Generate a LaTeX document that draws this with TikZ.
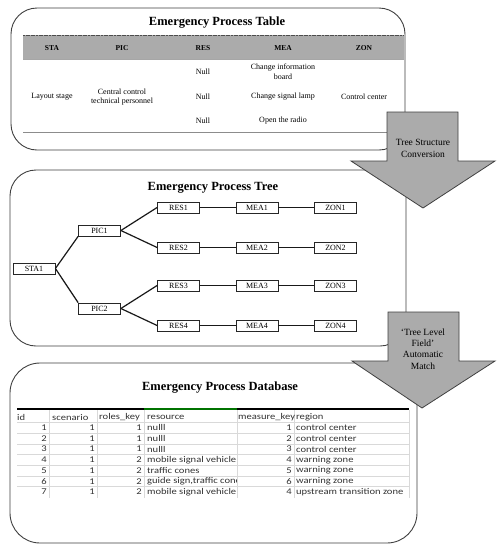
\documentclass[tikz,border=0pt]{standalone}
\usepackage{fontspec}
\setmainfont{Liberation Serif}
\newfontfamily\dbfont{Carlito}[FakeStretch=1.2]
\begin{document}
\begin{tikzpicture}[x=1pt,y=-1pt,
  panel/.style={draw=black!75,line width=0.9pt,rounded corners=26pt},
  bigarrow/.style={draw=black!75,fill=black!33,line width=0.8pt},
  titletext/.style={font=\fontsize{12.5}{14}\selectfont\bfseries,inner sep=0},
  hdr/.style={font=\fontsize{7.5}{9}\selectfont\bfseries,inner sep=0},
  cell/.style={font=\fontsize{8}{9.6}\selectfont,inner sep=0,align=center},
  arrowtext/.style={font=\fontsize{9.5}{11.3}\selectfont,inner sep=0,align=center},
  tbox/.style={draw=black!85,line width=0.8pt,minimum width=42pt,minimum height=11pt,inner sep=0,font=\fontsize{8}{9}\selectfont},
  treeline/.style={line width=1.2pt,black!90},
  db/.style={font=\dbfont\fontsize{8.8}{10}\selectfont,inner sep=0,text=black!80},
  grid/.style={draw=black!15,line width=0.5pt}]
\useasboundingbox (0,0) rectangle (504,550);
\fill[white] (0,0) rectangle (504,550);

% ---------- panels ----------
\draw[panel] (11,8) rectangle (405,150);
\draw[panel] (10,170) rectangle (406,346);
\draw[panel,rounded corners=30pt] (10,363) rectangle (417,543);

% ---------- top panel: table ----------
\node[titletext] (t1) at (217,23) {Emergency Process Table};
\fill[black!33] (23,35) rectangle (404,59);
\draw[black!70,line width=1pt,dash pattern=on 2pt off 0.6pt] (23,35) -- (404,35);
\draw[black!35,line width=0.6pt] (23,59) -- (404,59);
\draw[black!45,line width=0.6pt] (23,132) -- (404,132);
\node[hdr] (hSTA) at (52,48) {STA};
\node[hdr] (hPIC) at (122,48) {PIC};
\node[hdr] (hRES) at (203,48) {RES};
\node[hdr] (hMEA) at (283,48) {MEA};
\node[hdr] (hZON) at (364,48) {ZON};
\node[cell] (c1) at (52,97) {Layout stage};
\node[cell] (c2) at (122,97) {Central control\\technical personnel};
\node[cell] (c3) at (203,72) {Null};
\node[cell] (c4) at (203,97) {Null};
\node[cell] (c5) at (203,121) {Null};
\node[cell] (c6) at (283,72) {Change information\\board};
\node[cell] (c7) at (283,97) {Change signal lamp};
\node[cell] (c8) at (283,121) {Open the radio};
\node[cell] (c9) at (364,97) {Control center};

% ---------- middle panel: tree ----------
\node[titletext] (t2) at (213,188) {Emergency Process Tree};
\node[tbox] (STA1) at (34,268.5) {STA1};
\node[tbox] (PIC1) at (99.5,230.5) {PIC1};
\node[tbox] (PIC2) at (99.5,308.5) {PIC2};
\foreach \k/\yy in {1/207.5,2/247.5,3/285.5,4/325.5}{
  \node[tbox] (RES\k) at (178.5,\yy) {RES\k};
  \node[tbox] (MEA\k) at (257,\yy) {MEA\k};
  \node[tbox] (ZON\k) at (335.5,\yy) {ZON\k};
  \draw[treeline] (RES\k) -- (MEA\k);
  \draw[treeline] (MEA\k) -- (ZON\k);
}
\draw[treeline] (STA1.east) -- (PIC1.south west);
\draw[treeline] (STA1.east) -- (PIC2.north west);
\draw[treeline] (PIC1.east) -- (RES1.west);
\draw[treeline] (PIC1.east) -- (RES2.west);
\draw[treeline] (PIC2.east) -- (RES3.west);
\draw[treeline] (PIC2.east) -- (RES4.west);

% ---------- bottom panel: database ----------
\node[titletext] (t3) at (220,388) {Emergency Process Database};
\foreach \yy in {422.5,433.2,443.9,454.6,465.3,476,486.7}{
  \draw[grid] (17,\yy) -- (409,\yy);
}
\foreach \xx in {49,97,144,237,294,409}{
  \draw[grid] (\xx,410) -- (\xx,498);
}
\draw[black,line width=2.6pt] (17,409) -- (409,409);
\draw[green!45!black,line width=2.6pt] (144,409) -- (237,409);
\node[db,anchor=west] (d1) at (17,417) {id};
\node[db,anchor=west] (d2) at (52,417) {scenario};
\node[db,anchor=west] (d3) at (99,417) {roles\_key};
\node[db,anchor=west] (d4) at (147,417) {resource};
\node[db,anchor=west] (d5) at (238,417) {measure\_key};
\node[db,anchor=west] (d6) at (296,417) {region};
\foreach \i/\sc/\rk/\res/\mk/\reg [count=\n] in {
  1/1/1/nulll/1/control center,
  2/1/1/nulll/2/control center,
  3/1/1/nulll/3/control center,
  4/1/2/mobile signal vehicle/4/warning zone,
  5/1/2/traffic cones/5/warning zone,
  6/1/2/{guide sign,traffic cones}/6/warning zone,
  7/1/2/mobile signal vehicle/4/upstream transition zone}{
  \pgfmathsetmacro{\yy}{417+10.7*\n}
  \node[db,anchor=east] (r\n a) at (47,\yy) {\i};
  \node[db,anchor=east] (r\n b) at (95,\yy) {\sc};
  \node[db,anchor=east] (r\n c) at (142,\yy) {\rk};
  \begin{scope}
    \clip (144,\yy-6) rectangle (236.5,\yy+6);
    \node[db,anchor=west] (r\n d) at (147,\yy) {\res};
  \end{scope}
  \node[db,anchor=east] (r\n e) at (292,\yy) {\mk};
  \node[db,anchor=west] (r\n f) at (296,\yy) {\reg};
}

% ---------- big arrows ----------
\draw[bigarrow] (387,112) -- (458,112) -- (458,161) -- (495,161) -- (423,208) -- (351,161) -- (387,161) -- cycle;
\node[arrowtext] (a1) at (423,148.5) {Tree Structure\\Conversion};
\draw[bigarrow] (388,312) -- (459,312) -- (459,361) -- (495,361) -- (422,408) -- (352,361) -- (388,361) -- cycle;
\node[arrowtext] (a2) at (423,349) {‘Tree Level\\Field’\\Automatic\\Match};
\end{tikzpicture}
\end{document}
